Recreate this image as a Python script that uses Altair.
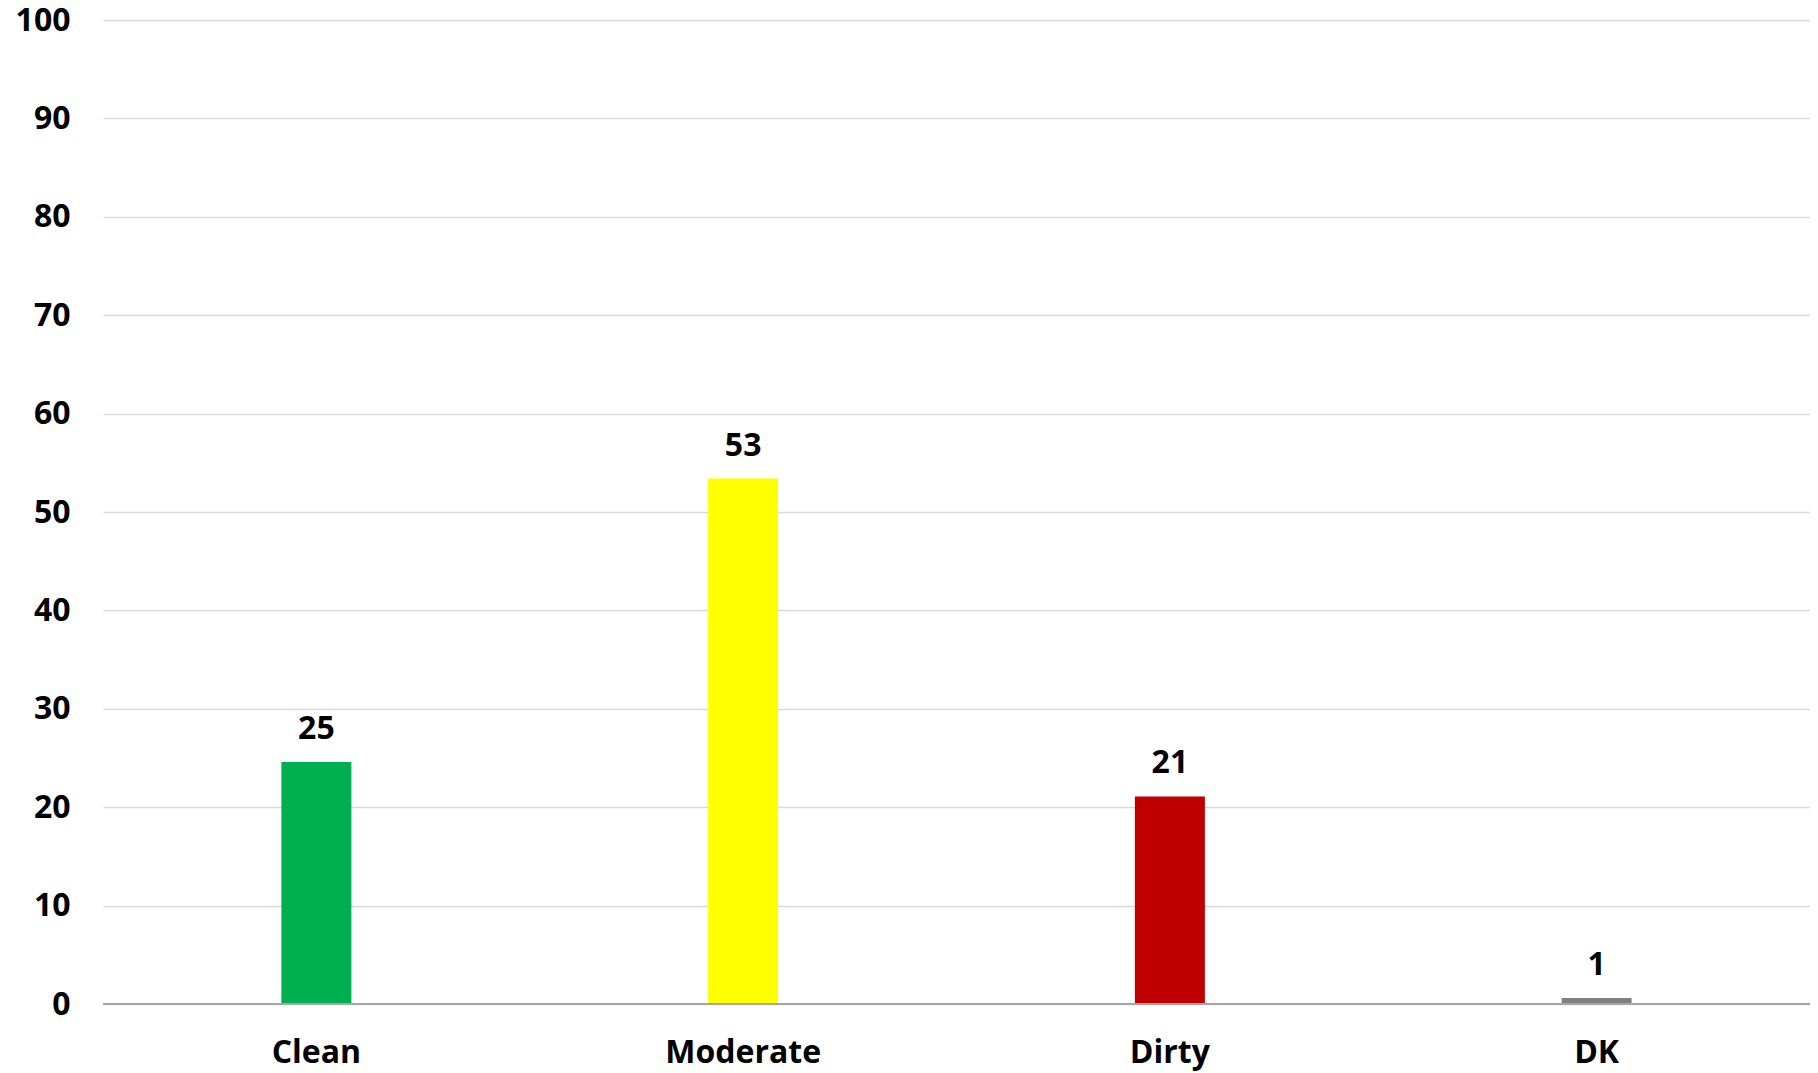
import altair as alt
import pandas as pd

categories = ["Clean", "Moderate", "Dirty", "DK"]
values = [24.6, 53.4, 21.1, 0.6]
labels = ["25", "53", "21", "1"]
colors = ["#00B050", "#FFFF00", "#C00000", "#808080"]

df = pd.DataFrame({"cat": categories, "val": values, "lab": labels, "col": colors})

FONT = "Open Sans"
FS = 32

x = alt.X("cat:N", sort=categories, title=None,
          scale=alt.Scale(paddingInner=0, paddingOuter=0),
          axis=alt.Axis(labelAngle=0, labelFont=FONT, labelFontSize=FS, labelFontWeight="bold",
                        labelColor="#000000", labelPadding=33, ticks=False, domain=False, grid=False))
y = alt.Y("val:Q", title=None,
          scale=alt.Scale(domain=[0, 100], nice=False),
          axis=alt.Axis(values=list(range(0, 101, 10)), labelFont=FONT, labelFontSize=FS,
                        labelFontWeight="bold", labelColor="#000000", labelPadding=33,
                        ticks=False, domain=False, grid=True, gridColor="#d9d9d9", gridWidth=1.5))

base = alt.Chart(df).encode(x=x, y=y)

bars = base.mark_bar(size=70).encode(color=alt.Color("col:N", scale=None))

text = base.mark_text(font=FONT, fontSize=FS, fontWeight="bold", baseline="alphabetic",
                      dy=-23, color="#000000").encode(text="lab:N")

zero = alt.Chart(df).mark_rule(color="#a6a6a6", strokeWidth=2).encode(
    y=alt.datum(0)
)

chart = alt.layer(bars, zero, text).properties(
    width=1707, height=984,
    background="#ffffff",
    autosize=alt.AutoSizeParams(type="none"),
    padding={"left": 95, "top": 12, "right": 0, "bottom": 69}
).configure_view(stroke="transparent", strokeWidth=0)

chart.save("out.html", embed_options={"renderer": "svg", "actions": False})
